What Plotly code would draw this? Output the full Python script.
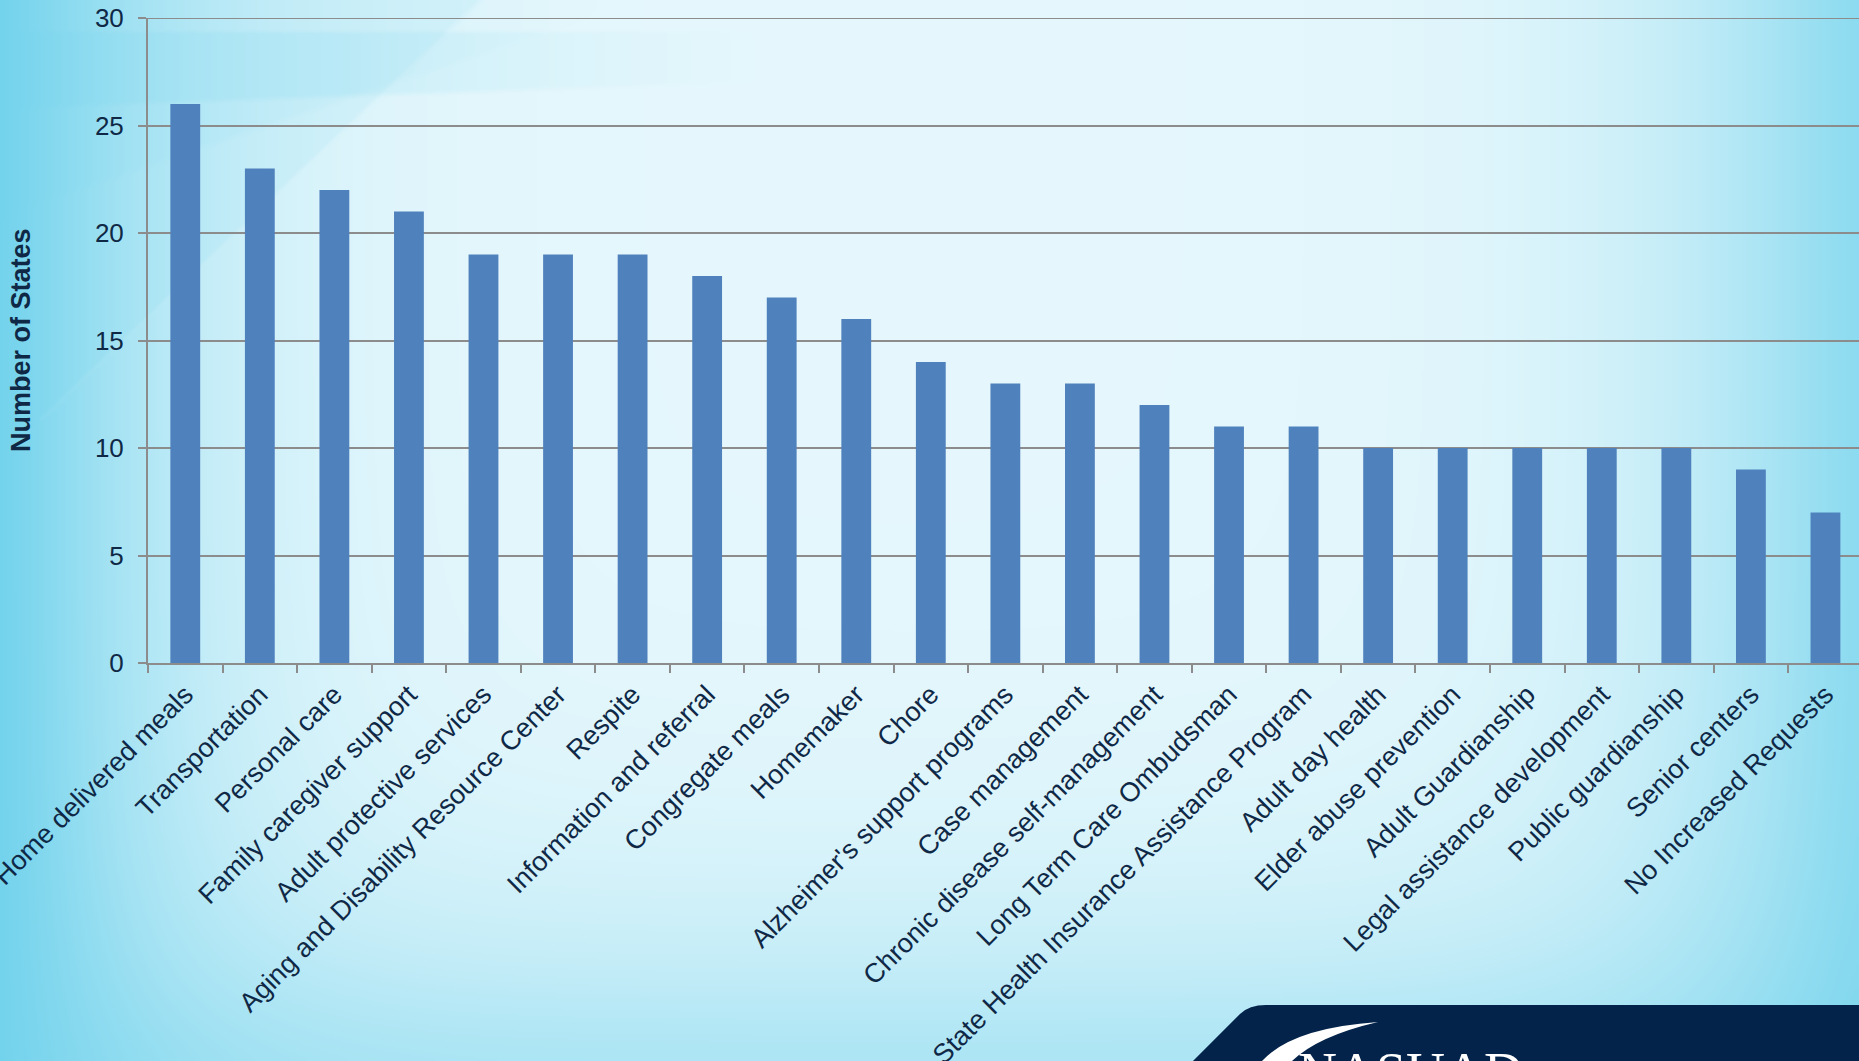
import base64
import struct
import zlib

import numpy as np
import plotly.graph_objects as go

# ---- data -------------------------------------------------------------
services = [
    "Home delivered meals",
    "Transportation",
    "Personal care",
    "Family caregiver support",
    "Adult protective services",
    "Aging and Disability Resource Center",
    "Respite",
    "Information and referral",
    "Congregate meals",
    "Homemaker",
    "Chore",
    "Alzheimer's support programs",
    "Case management",
    "Chronic disease self-management",
    "Long Term Care Ombudsman",
    "State Health Insurance Assistance Program",
    "Adult day health",
    "Elder abuse prevention",
    "Adult Guardianship",
    "Legal assistance development",
    "Public guardianship",
    "Senior centers",
    "No Increased Requests",
]
num_states = [26, 23, 22, 21, 19, 19, 19, 18, 17, 16, 14, 13, 13, 12, 11, 11,
              10, 10, 10, 10, 10, 9, 7]
y_ticks = [0, 5, 10, 15, 20, 25, 30]

# ---- page geometry (pixels) --------------------------------------------
W, H = 1859, 1061
ML, MR, MT, MB = 148, 0, 18, 398
PW, PH = W - ML - MR, H - MT - MB


def px_to_paper(px, py):
    return (px - ML) / PW, (H - MB - py) / PH


# ---- slide background as a generated PNG --------------------------------
def png_uri(img):
    h, w, _ = img.shape
    raw = b"".join(b"\x00" + img[i].tobytes() for i in range(h))

    def chunk(tag, data):
        c = struct.pack(">I", len(data)) + tag + data
        return c + struct.pack(">I", zlib.crc32(tag + data) & 0xFFFFFFFF)

    png = (b"\x89PNG\r\n\x1a\n"
           + chunk(b"IHDR", struct.pack(">IIBBBBB", w, h, 8, 2, 0, 0, 0))
           + chunk(b"IDAT", zlib.compress(raw, 9))
           + chunk(b"IEND", b""))
    return "data:image/png;base64," + base64.b64encode(png).decode()


def smooth(v, soft):
    return np.clip(0.5 + v / (2.0 * soft), 0.0, 1.0)


S = 2
bw, bh = W // S, H // S
xs = (np.arange(bw) + 0.5) * S
ys = (np.arange(bh) + 0.5) * S
X, Y = np.meshgrid(xs, ys)

light = np.array([229, 247, 252], dtype=float)
cyan = np.array([116, 211, 236], dtype=float)

t_left = np.exp(-(X / 175.0) ** 1.3)
t_right = 0.78 * np.exp(-(np.clip(W - X, 0, None) / 190.0) ** 1.3)
t_bottom = 0.5 * np.exp(-(np.clip(H - Y, 0, None) / 160.0) ** 1.3)
t = 1 - (1 - t_left) * (1 - t_right) * (1 - t_bottom)

# sweeping bands in the upper-left corner
band_low = 108 - 0.035 * X
band = smooth(Y - 32, 2) * smooth(band_low - Y, 3) * np.clip((760 - X) / 420, 0, 1)
t = t + 0.17 * band * (1 - t)

diag_edge = 40 + (420 - Y) * 1.05
diag = smooth(diag_edge - X, 5) * (Y < 460)
t = t + 0.12 * diag * (1 - t)

arc_edge = 215 - X * (175 / 520)
arc = smooth(arc_edge - Y, 4) * np.clip((620 - X) / 300, 0, 1)
t = t + 0.08 * arc * (1 - t)

# faint pale line along the diagonal sweep
hl = np.exp(-((diag_edge - X) / 3.0) ** 2) * np.clip((560 - X) / 250, 0, 1) * (Y < 420)
t = t - 0.05 * hl

t = np.clip(t, 0, 1)[..., None]
bg = (light * (1 - t) + cyan * t).round().astype(np.uint8)
bg_uri = png_uri(bg)

# ---- figure -----------------------------------------------------------
text_color = "#0f2846"
grid_color = "#8c8c8c"

fig = go.Figure()
fig.add_trace(go.Bar(
    x=services,
    y=num_states,
    marker=dict(color="#4f81bd", line=dict(width=0)),
    hoverinfo="x+y",
))

bx0, by0 = px_to_paper(0, 0)
fig.add_layout_image(dict(
    source=bg_uri, xref="paper", yref="paper",
    x=bx0, y=by0, sizex=W / PW, sizey=H / PH,
    xanchor="left", yanchor="top", sizing="stretch", layer="below",
))

# top gridline at the end of the value range
fig.add_shape(type="line", xref="paper", yref="y", x0=0, x1=1, y0=y_ticks[-1], y1=y_ticks[-1],
              line=dict(color=grid_color, width=2), layer="below")


def path_from(points_cmds):
    out = []
    for cmd, pts in points_cmds:
        coords = " ".join("%.5f,%.5f" % px_to_paper(px, py) for px, py in pts)
        out.append(cmd + coords)
    return " ".join(out) + " Z"


# navy footer panel
footer = path_from([
    ("M", [(1193, 1061)]),
    ("L", [(1240, 1014)]),
    ("Q", [(1249, 1005), (1266, 1005)]),
    ("L", [(1859, 1005)]),
    ("L", [(1859, 1061)]),
])
fig.add_shape(type="path", path=footer, xref="paper", yref="paper",
              fillcolor="#03234a", line=dict(width=0), layer="above")

# white swoosh of the logo
swoosh = path_from([
    ("M", [(1262, 1061)]),
    ("Q", [(1292, 1028), (1378, 1022)]),
    ("Q", [(1318, 1036), (1292, 1061)]),
])
fig.add_shape(type="path", path=swoosh, xref="paper", yref="paper",
              fillcolor="white", line=dict(width=0), layer="above")

lx, ly = px_to_paper(1296, 1050)
fig.add_annotation(
    text="NASUAD", x=lx, y=ly, xref="paper", yref="paper",
    xanchor="left", yanchor="middle", yshift=-22, showarrow=False,
    font=dict(family="Liberation Serif, DejaVu Serif, serif", size=54, color="white"),
)

tx, ty = px_to_paper(21, 340)
fig.add_annotation(
    text="<b>Number of States</b>", x=tx, y=ty, xref="paper", yref="paper",
    xanchor="center", yanchor="middle", textangle=-90, showarrow=False,
    font=dict(family="Liberation Sans, Arial, sans-serif", size=27, color=text_color),
)

fig.update_layout(
    width=W, height=H,
    margin=dict(l=ML, r=MR, t=MT, b=MB, pad=0),
    paper_bgcolor="rgba(0,0,0,0)",
    plot_bgcolor="rgba(0,0,0,0)",
    font=dict(family="Liberation Sans, Arial, sans-serif", color=text_color),
    bargap=0.6,
    showlegend=False,
    xaxis=dict(
        type="category",
        range=[-0.5, len(services) - 0.55],
        tickmode="linear", tick0=0, dtick=1,
        tickangle=-45,
        tickfont=dict(size=27, color=text_color),
        ticklabelstandoff=3,
        showgrid=False,
        showline=True, linecolor=grid_color, linewidth=2,
        ticks="outside", tickson="boundaries", ticklen=8,
        tickcolor=grid_color, tickwidth=2,
        automargin=False,
        fixedrange=True,
    ),
    yaxis=dict(
        range=[0, 30],
        tickmode="array", tickvals=y_ticks,
        tickfont=dict(size=26, color=text_color),
        showgrid=True, gridcolor=grid_color, gridwidth=2,
        showline=True, linecolor=grid_color, linewidth=2,
        ticks="outside", ticklen=8, tickcolor=grid_color, tickwidth=2,
        ticklabelstandoff=9,
        zeroline=False,
        automargin=False,
        fixedrange=True,
    ),
)

fig.write_html("out.html", config={"displayModeBar": False})
